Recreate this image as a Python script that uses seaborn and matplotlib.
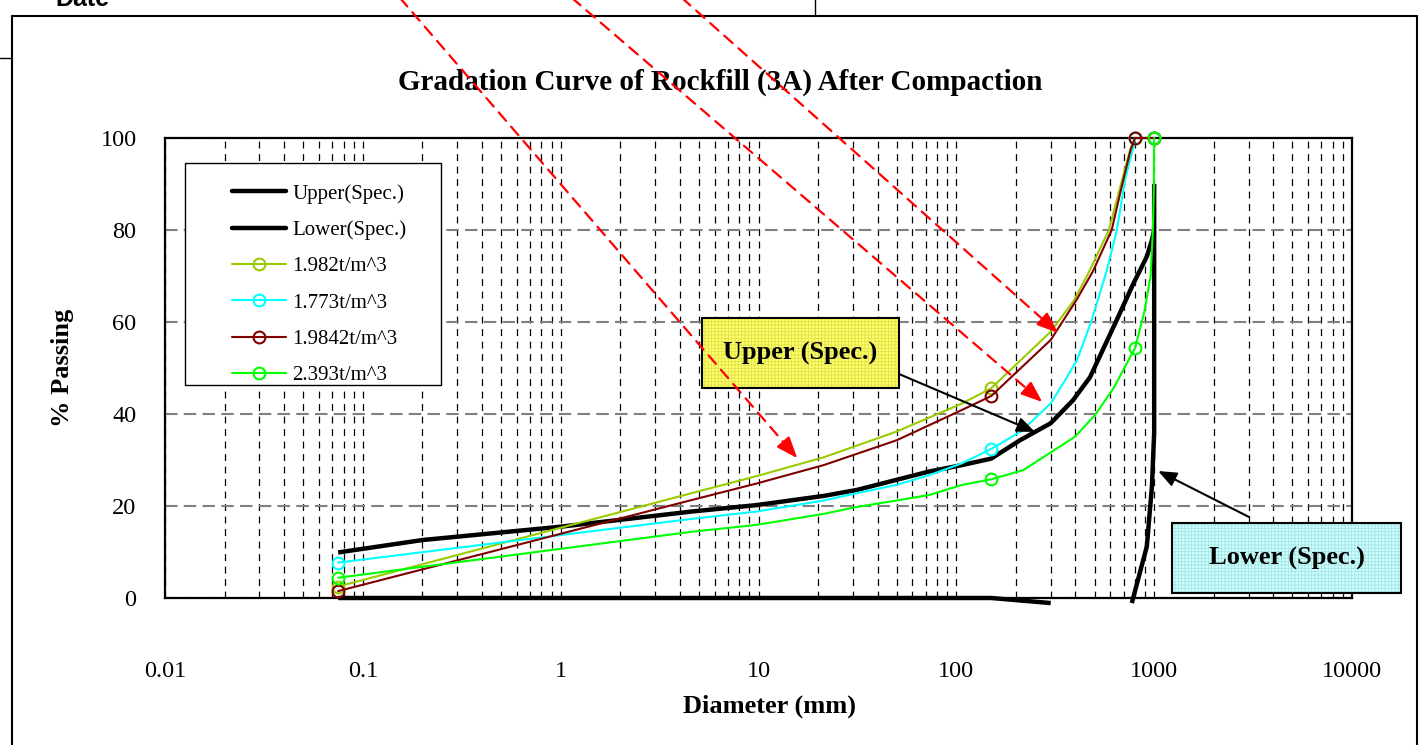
import numpy as np
import pandas as pd
import matplotlib
matplotlib.use("Agg")
import matplotlib.pyplot as plt
import seaborn as sns
from matplotlib.lines import Line2D
from matplotlib.patches import Rectangle, FancyArrowPatch
from matplotlib.ticker import FixedLocator, FuncFormatter, LogLocator, NullFormatter

# ---------------------------------------------------------------- data
# specification envelope (diameter in mm, % passing)
upper_d = [0.075, 0.2, 1, 4.6, 9.8, 21.4, 31.5, 50, 73, 107, 150, 210, 300, 389, 474, 520, 640, 786, 918, 974, 1000]
upper_p = [9.9, 12.6, 15.5, 18.8, 20.2, 22.2, 23.5, 25.7, 27.5, 28.9, 30.3, 34.3, 38.0, 43.0, 48.0, 51.7, 60.0, 68.4, 74.2, 77.8, 80.0]

lower_fine_d = [0.075, 150, 300]
lower_fine_p = [0.0, 0.0, -1.1]
lower_coarse_d = [771, 918, 974, 1000, 1000]
lower_coarse_p = [-1.1, 11.2, 24.2, 36.0, 90.0]

# gradation of the compacted rockfill, by dry density
d_1982 = [0.075, 4.6, 9.8, 21.4, 50, 107, 150, 300, 395, 470, 590, 680, 756, 800, 1000]
p_1982 = [2.5, 22.8, 26.5, 30.6, 36.2, 42.3, 45.6, 57.9, 64.8, 71.0, 80.0, 90.0, 97.5, 100.0, 100.0]

d_1773 = [0.075, 4.6, 9.8, 21.4, 31.5, 50, 73, 107, 150, 212, 300, 355, 407, 480, 577, 648, 713, 786, 800, 1000]
p_1773 = [7.7, 17.2, 18.8, 21.2, 22.8, 24.6, 26.7, 29.3, 32.4, 36.2, 42.3, 47.4, 51.7, 60.0, 71.3, 80.0, 91.0, 98.1, 100.0, 100.0]

d_19842 = [0.075, 4.6, 9.8, 21.4, 50, 107, 150, 300, 405, 490, 610, 690, 760, 800, 1000]
p_19842 = [1.5, 21.3, 24.9, 28.9, 34.3, 40.9, 43.9, 56.1, 64.8, 71.0, 80.0, 90.0, 97.4, 100.0, 100.0]

d_2393 = [0.075, 4.6, 9.8, 21.4, 31.5, 50, 73, 107, 150, 218, 399, 503, 623, 713, 800, 890, 960, 985, 997, 1000]
p_2393 = [4.4, 14.4, 15.9, 18.3, 19.8, 21.2, 22.4, 24.6, 25.8, 27.8, 35.1, 39.8, 45.6, 50.3, 54.3, 62.0, 70.0, 80.0, 90.0, 100.0]

sieve_sizes = [0.075, 150, 800, 1000]

series_names = ["1.982t/m^3", "1.773t/m^3", "1.9842t/m^3", "2.393t/m^3"]
series_d = [d_1982, d_1773, d_19842, d_2393]
series_p = [p_1982, p_1773, p_19842, p_2393]
series_colors = ["#99cc00", "#00ffff", "#800000", "#00ff00"]

x_ticks = [0.01, 0.1, 1, 10, 100, 1000, 10000]
y_ticks = [0, 20, 40, 60, 80, 100]

title = "Gradation Curve of Rockfill (3A) After Compaction"

# ---------------------------------------------------------------- style
sns.set_theme(style="white")
plt.rcParams["font.family"] = ["Liberation Serif", "DejaVu Serif"]
plt.rcParams["text.color"] = "black"
plt.rcParams["axes.labelcolor"] = "black"
plt.rcParams["hatch.linewidth"] = 0.6

W, H = 1426, 745
fig = plt.figure(figsize=(W / 100, H / 100), dpi=100)
fig.patch.set_facecolor("white")


def fx(px):
    return px / W


def fy(py):
    return 1 - py / H


ax = fig.add_axes([fx(165), fy(598), (1352 - 165) / W, (598 - 138) / H])
ax.set_facecolor("white")

# ---------------------------------------------------------------- curves
spec_frame = pd.concat([
    pd.DataFrame({"diameter": upper_d, "passing": upper_p, "part": "upper"}),
    pd.DataFrame({"diameter": lower_fine_d, "passing": lower_fine_p, "part": "lower_fine"}),
    pd.DataFrame({"diameter": lower_coarse_d, "passing": lower_coarse_p, "part": "lower_coarse"}),
], ignore_index=True)

sns.lineplot(data=spec_frame, x="diameter", y="passing", units="part", estimator=None,
             sort=False, color="black", linewidth=3.2, ax=ax, clip_on=False,
             solid_capstyle="butt", zorder=3)

for name, d, p, c in zip(series_names, series_d, series_p, series_colors):
    frame = pd.DataFrame({"diameter": d, "passing": p})
    marks = [i for i, v in enumerate(d) if v in sieve_sizes]
    sns.lineplot(data=frame, x="diameter", y="passing", estimator=None, sort=False,
                 color=c, linewidth=1.5, marker="o", markevery=marks,
                 markerfacecolor="none", markeredgecolor=c, markersize=8.5,
                 markeredgewidth=1.5, ax=ax, clip_on=False, zorder=4)

# ---------------------------------------------------------------- axes
ax.set_xscale("log")
ax.set_xlim(0.01, 10000)
ax.set_ylim(0, 100)
ax.xaxis.set_major_locator(FixedLocator(x_ticks))
ax.xaxis.set_major_formatter(FuncFormatter(lambda v, _: f"{v:g}"))
ax.xaxis.set_minor_locator(LogLocator(base=10, subs=np.arange(2, 10), numticks=30))
ax.xaxis.set_minor_formatter(NullFormatter())
ax.yaxis.set_major_locator(FixedLocator(y_ticks))

ax.set_axisbelow(True)
ax.grid(axis="x", which="both", color="black", linestyle=(0, (5.5, 4.5)), linewidth=0.9)
ax.grid(axis="y", which="major", color="#808080", linestyle=(0, (6, 3)), linewidth=1.5)

ax.tick_params(axis="both", which="major", direction="out", length=9.5, width=1.3,
               color="#808080", labelsize=17.5, labelcolor="black")
ax.tick_params(axis="x", which="major", pad=36)
ax.tick_params(axis="y", which="major", pad=11)
ax.tick_params(axis="x", which="minor", length=0)

for s in ax.spines.values():
    s.set_visible(True)
    s.set_color("black")
    s.set_linewidth(1.6)

ax.set_xlabel("Diameter (mm)", fontsize=19, fontweight="bold", color="black")
ax.set_ylabel("% Passing", fontsize=19, fontweight="bold", color="black")
ax.xaxis.label.set_va("center")
ax.yaxis.label.set_va("center")
ax.xaxis.set_label_coords((770 - 165) / 1187, (598 - 706) / 460)
ax.yaxis.set_label_coords((62 - 165) / 1187, (598 - 368) / 460)

fig.text(fx(720), fy(82), title, fontsize=21, fontweight="bold", ha="center", va="center",
         color="black")

# ---------------------------------------------------------------- legend
fig.add_artist(Rectangle((fx(185), fy(385)), (441 - 185) / W, (385 - 163) / H,
                         transform=fig.transFigure, facecolor="white",
                         edgecolor="black", linewidth=1.0, zorder=3))
handles = [Line2D([], [], color="black", linewidth=3.2),
           Line2D([], [], color="black", linewidth=3.2)]
for c in series_colors:
    handles.append(Line2D([], [], color=c, linewidth=1.5, marker="o", markerfacecolor="none",
                          markeredgecolor=c, markersize=8.5, markeredgewidth=1.5))
labels = ["Upper(Spec.)", "Lower(Spec.)"] + series_names
leg = fig.legend(handles, labels, loc="upper left", bbox_to_anchor=(fx(232), fy(184)),
                 bbox_transform=fig.transFigure, frameon=False, borderpad=0,
                 borderaxespad=0, handlelength=2.6, handletextpad=0.3,
                 labelspacing=0.8, prop={"family": "Liberation Serif", "size": 15})
for t in leg.get_texts():
    t.set_color("black")
leg.set_zorder(5)

# ---------------------------------------------------------------- callout boxes
def callout_box(x0, y0, x1, y1, face, grid, text):
    fig.add_artist(Rectangle((fx(x0), fy(y1)), (x1 - x0) / W, (y1 - y0) / H,
                             transform=fig.transFigure, facecolor=face, edgecolor=grid,
                             hatch="+++++", linewidth=0, zorder=4))
    fig.add_artist(Rectangle((fx(x0), fy(y1)), (x1 - x0) / W, (y1 - y0) / H,
                             transform=fig.transFigure, fill=False, edgecolor="black",
                             linewidth=1.5, zorder=4))
    fig.text(fx((x0 + x1) / 2), fy((y0 + y1) / 2), text, fontsize=19, fontweight="bold",
             ha="center", va="center", color="black", zorder=5)


callout_box(702, 318, 899, 388, "#ffff66", "#e0e050", "Upper (Spec.)")
callout_box(1172, 523, 1401, 593, "#ccffff", "#a8e4e4", "Lower (Spec.)")

# ---------------------------------------------------------------- arrows
to_fig = fig.transFigure.inverted()


def tip_fig(pt):
    return to_fig.transform(ax.transData.transform(pt))


def pointer(tail_px, tip_data, color, dashed, head_len, head_w, lw):
    tail = np.array([fx(tail_px[0]), fy(tail_px[1])])
    tip = tip_fig(tip_data)
    tail_d = fig.transFigure.transform(tail)
    tip_d = fig.transFigure.transform(tip)
    u = (tip_d - tail_d) / np.hypot(*(tip_d - tail_d))
    hl_px = head_len * 10 / 72 * 100
    style = f"-|>,head_length={head_len},head_width={head_w}"
    if dashed:
        fig.add_artist(FancyArrowPatch(tail, tip, transform=fig.transFigure,
                                       arrowstyle="-", color=color, linewidth=lw,
                                       linestyle=(0, (5, 3.5)), shrinkA=0,
                                       shrinkB=head_len * 10, zorder=6))
        base = to_fig.transform(tip_d - u * hl_px)
        fig.add_artist(FancyArrowPatch(base, tip, transform=fig.transFigure,
                                       arrowstyle=style, mutation_scale=10, color=color,
                                       linewidth=lw, shrinkA=0, shrinkB=0, zorder=6))
    else:
        fig.add_artist(FancyArrowPatch(tail, tip, transform=fig.transFigure,
                                       arrowstyle=style, mutation_scale=10, color=color,
                                       linewidth=lw, shrinkA=0, shrinkB=0, zorder=6))


pointer((400, -2), (15.7, 30.4), "red", True, 1.3, 0.5, 1.6)
pointer((572, -2), (272, 42.6), "red", True, 1.3, 0.5, 1.6)
pointer((682, -2), (327, 57.6), "red", True, 1.3, 0.5, 1.6)
pointer((899, 374), (250, 36.1), "black", False, 1.1, 0.45, 1.5)
pointer((1249, 517), (1048, 27.6), "black", False, 1.1, 0.45, 1.5)

# ---------------------------------------------------------------- sheet frame
frame_kw = dict(transform=fig.transFigure, color="black", linewidth=1.5, zorder=2)
fig.add_artist(Line2D([fx(12), fx(1417)], [fy(16), fy(16)], **frame_kw))
fig.add_artist(Line2D([fx(12), fx(12)], [fy(16), fy(745)], **frame_kw))
fig.add_artist(Line2D([fx(1417), fx(1417)], [fy(16), fy(745)], **frame_kw))
fig.add_artist(Line2D([fx(815), fx(815)], [fy(0), fy(16)], color="black", linewidth=1.0,
                      transform=fig.transFigure))
fig.add_artist(Line2D([fx(0), fx(12)], [fy(58), fy(58)], color="black", linewidth=1.0,
                      transform=fig.transFigure))
fig.text(fx(55), fy(6), "Date", family="Liberation Sans", fontsize=18, fontweight="bold",
         ha="left", va="baseline", color="black")

fig.savefig("out.png", dpi=100)
